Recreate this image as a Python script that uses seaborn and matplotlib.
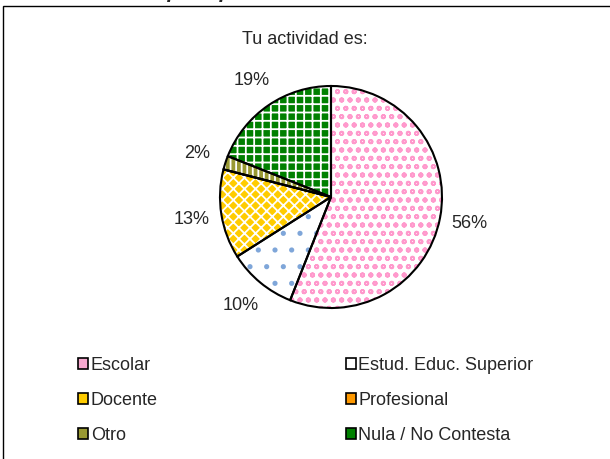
import matplotlib.pyplot as plt
import seaborn as sns
from matplotlib.patches import Patch, Rectangle

categories = ['Escolar', 'Estud. Educ. Superior', 'Docente', 'Profesional', 'Otro', 'Nula / No Contesta']
percents = [56, 10, 13, 0, 2, 19]
chart_title = 'Tu actividad es:'
page_title = 'Distribución por tipo de actividad'

# fill, hatch, hatch colour per slice
fills = ['white', 'white', '#ffcc00', '#ff9900', '#999933', '#008000']
hatches = ['oo', '.', 'xxx', '', '|||', '++']
hatch_colors = ['#ff99cc', '#7fa6d9', 'white', '#ff9900', 'white', 'white']
legend_fills = ['#f7a8cf', 'white', '#ffcc00', '#ff9900', '#999933', '#008000']

sns.set_style('white')
plt.rcParams['font.family'] = ['Liberation Sans', 'DejaVu Sans']
plt.rcParams['hatch.linewidth'] = 1.3

fig = plt.figure(figsize=(6.10, 4.59), dpi=100)

# partial frame (top and left edges visible)
fig.add_artist(Rectangle((3 / 610, -0.5), 2, 1 - 6 / 459 + 0.5, transform=fig.transFigure,
                         fill=False, edgecolor='black', linewidth=1.0))
# page heading, cut off by the top edge
fig.text(40 / 610, 1 + 2 / 459, page_title, fontsize=15, fontweight='bold', fontstyle='italic',
         va='baseline', ha='left')

ax = fig.add_axes([(331 - 111) / 610, (459 - 308) / 459, 222 / 610, 222 / 459])
labels = [f'{p}%' if p > 0 else '' for p in percents]

wedges, texts = ax.pie(percents, labels=labels, startangle=90, counterclock=False,
                       labeldistance=1.27, colors=fills,
                       wedgeprops=dict(linewidth=0),
                       textprops=dict(fontsize=13))
for w, h, hc in zip(wedges, hatches, hatch_colors):
    w.set_hatch(h)
    w.set_edgecolor(hc)
for t in texts:
    t.set_ha('center')
    t.set_va('center')

# black outlines on top
ax.pie(percents, startangle=90, counterclock=False,
       wedgeprops=dict(fill=False, edgecolor='black', linewidth=1.5))
ax.set_xlim(-1, 1)
ax.set_ylim(-1, 1)
ax.set_aspect('equal')
ax.axis('off')

fig.text(305 / 610, 1 - 40 / 459, chart_title, fontsize=13, ha='center', va='center')

handles = [Patch(facecolor=c, edgecolor='black', linewidth=1.2) for c in legend_fills]
order = [0, 2, 4, 1, 3, 5]
fig.legend([handles[i] for i in order], [categories[i] for i in order],
           ncol=2, loc='upper left', bbox_to_anchor=(62 / 610, 1 - 341 / 459),
           frameon=False, fontsize=13, handlelength=0.55, handleheight=0.55,
           handletextpad=0.15, columnspacing=10.4, labelspacing=0.98)

fig.savefig('out.png', dpi=100)
